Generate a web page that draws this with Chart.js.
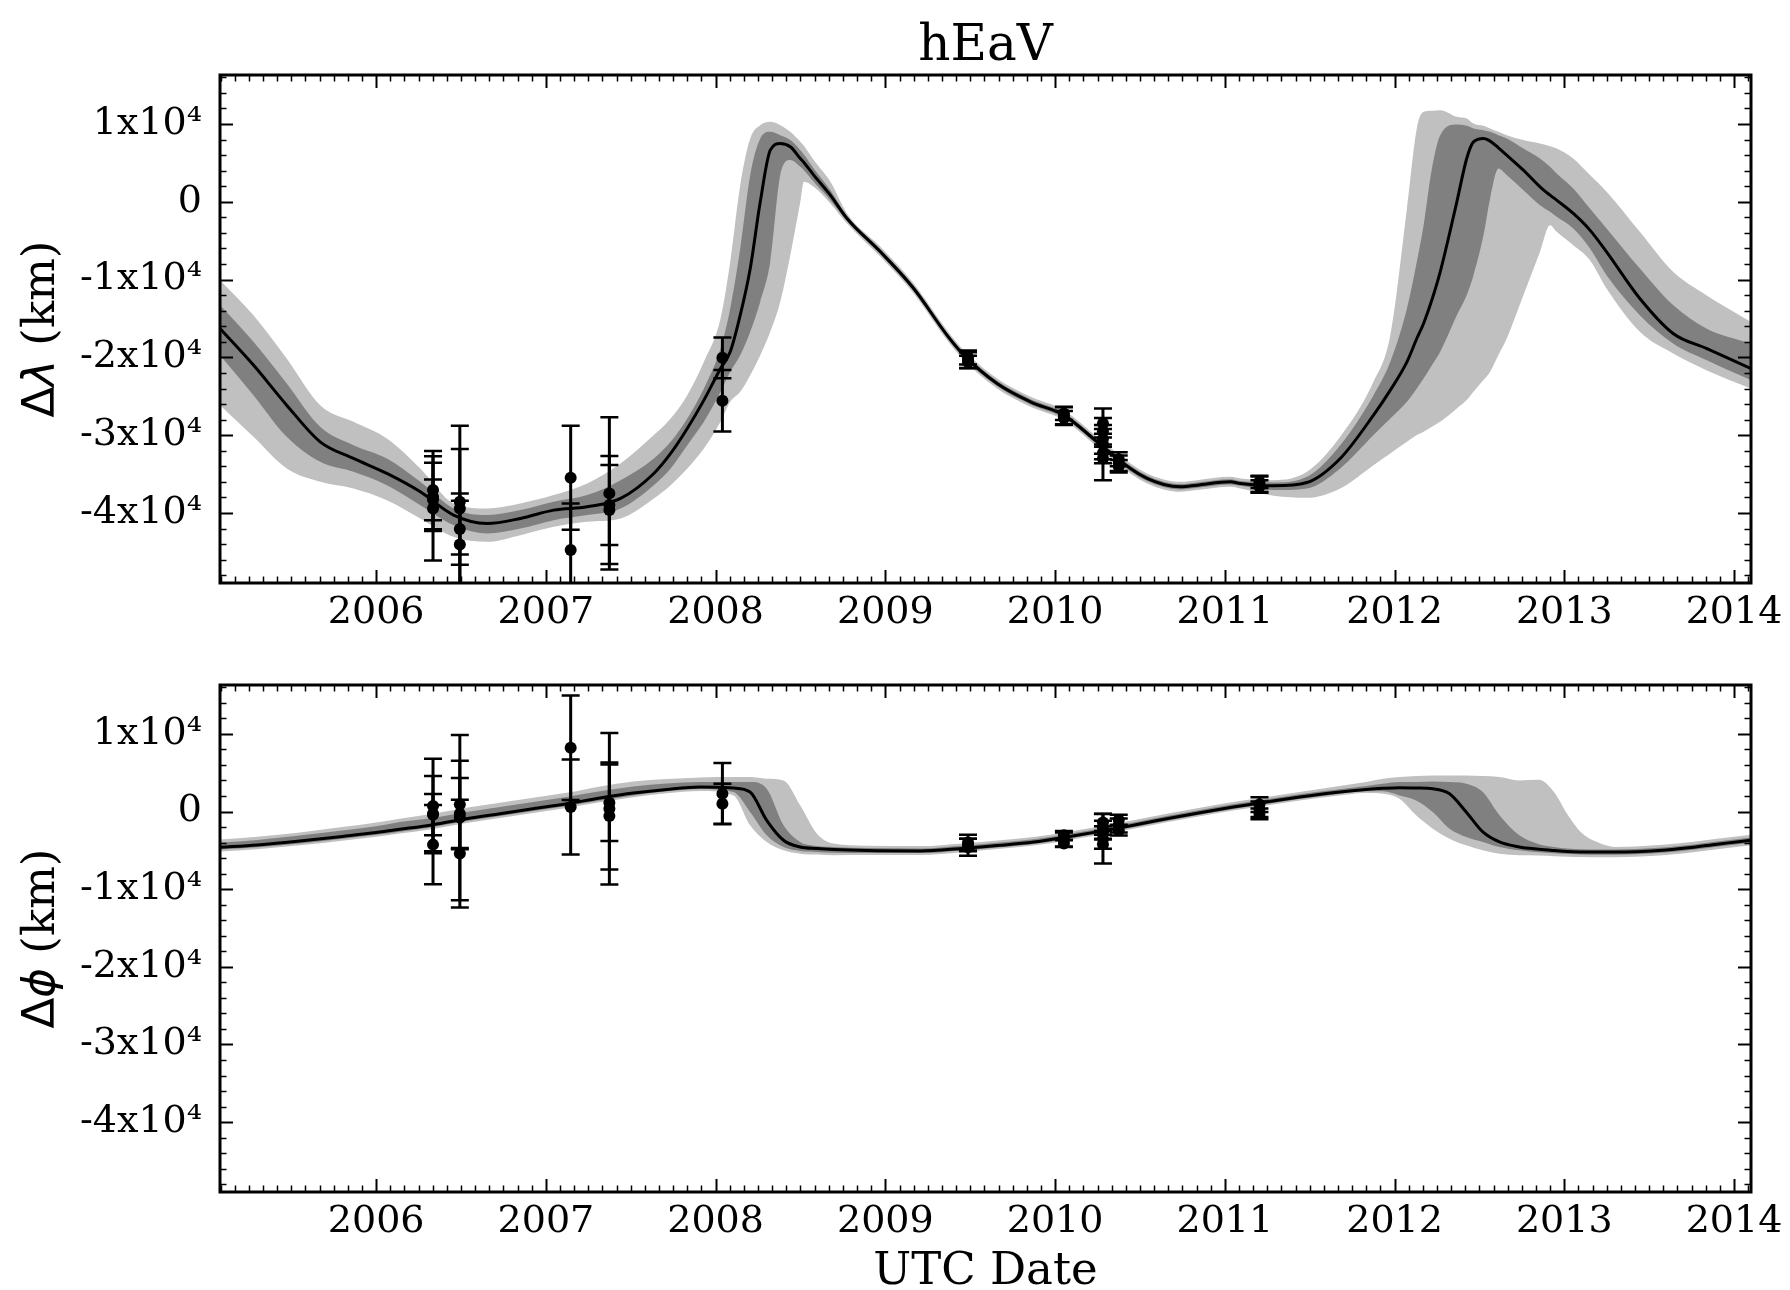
<!DOCTYPE html>
<html><head><meta charset="utf-8">
<script src="https://cdn.jsdelivr.net/npm/chart.js@4.4.1/dist/chart.umd.min.js"></script>
<style>
html,body{margin:0;padding:0;background:#fff;}
#wrap{position:relative;width:1790px;height:1290px;background:#fff;overflow:hidden;}
canvas{position:absolute;left:0;}
#c1{top:0;} #c2{top:640px;}
</style></head><body>
<div id="wrap"><canvas id="c1" width="1790" height="640"></canvas><canvas id="c2" width="1790" height="650"></canvas></div>
<script>
// ---------- axes ----------
const X_MIN = 2005.08, X_MAX = 2014.10;
const Y_MIN = -49000, Y_MAX = 16300;
const xTickVals = [2006, 2007, 2008, 2009, 2010, 2011, 2012, 2013, 2014];
const yTickVals = [-40000, -30000, -20000, -10000, 0, 10000];
const yTickLabels = ['-4x10⁴', '-3x10⁴', '-2x10⁴', '-1x10⁴', '0', '1x10⁴'];
const titleText = 'hEaV';
const xLabelText = 'UTC Date';

// ---------- top panel: Δλ (km) ----------
const lonT = [2005.080,2005.277,2005.473,2005.670,2005.866,2006.063,2006.260,2006.456,2006.653,2006.850,2007.046,2007.243,2007.440,2007.636,2007.735,2007.833,2007.931,2008.029,
  2008.086,2008.145,2008.204,2008.263,2008.322,2008.381,2008.440,2008.499,2008.520,2008.578,2008.676,2008.774,2008.971,2009.167,2009.363,2009.462,2009.658,2009.855,2010.051,2010.248,2010.444,2010.542,2010.640,2010.739,2010.837,2011.033,
  2011.092,2011.288,2011.484,2011.680,2011.876,2011.975,2012.073,2012.131,2012.171,2012.220,2012.269,2012.367,2012.425,2012.465,2012.524,2012.563,2012.612,2012.661,2012.759,2012.857,2012.916,2012.955,2013.053,2013.151,2013.249,2013.445,2013.641,2013.837,2014.098];
const lonCurve = [-16280,-20990,-26140,-30850,-32990,-34920,-37280,-40270,-41350,-40700,-39630,-39200,-38130,-34920,-32350,-29140,-25490,-21420,
  -19280,-14570,-8570,0,6640,7500,7070,5570,5060,3430,860,-2140,-6430,-11140,-17140,-19710,-23350,-25710,-27420,-30850,-34280,-35560,-36330,-36630,-36420,-35990,
  -36200,-36500,-36080,-32990,-27420,-24210,-20570,-17570,-15640,-12600,-9000,0,5570,7710,8140,7800,6940,6000,4070,1930,860,210,-1500,-3640,-6430,-12430,-16920,-18850,-21420];
const lonDarkHi = [-13280,-18000,-23350,-28920,-31280,-32990,-35990,-39420,-40270,-39630,-38560,-37700,-35780,-32990,-30850,-27850,-23990,-18850,
  -13710,-6000,3430,8140,9000,8570,7930,6640,6080,4290,1500,-1800,-6090,-10800,-16800,-19370,-23010,-25370,-27080,-30510,-33940,-35220,-35990,-36290,-36080,-35650,
  -35900,-36080,-35350,-31280,-24850,-20570,-13710,-7710,-3000,4280,8570,9940,9770,9430,9210,9000,8570,8140,6860,5570,4500,3640,1710,-860,-3430,-8570,-13280,-16280,-18210];
const lonDarkLo = [-19710,-24850,-30210,-33420,-34700,-36420,-38990,-41560,-42630,-41990,-40920,-40270,-39420,-36420,-34280,-31280,-28280,-24420,
  -21850,-19710,-16710,-12850,-7710,3430,5360,4500,4070,2570,210,-2480,-6770,-11480,-17480,-20050,-23690,-26050,-27760,-31190,-34620,-35900,-36670,-36970,-36760,-36330,
  -36500,-37060,-36850,-34280,-29990,-27850,-25710,-23990,-22710,-21000,-19280,-14570,-12000,-9430,-4290,430,4280,3430,1500,-430,-1290,-1930,-3430,-6000,-9430,-14570,-18210,-20350,-22920];
const lonLightHi = [-10070,-14570,-20140,-26140,-28280,-30420,-34280,-38780,-39420,-38780,-37700,-36200,-33630,-29990,-27850,-24850,-20570,-15000,
  -7710,2140,8140,9850,10280,9850,9000,7710,7200,5360,2570,-1500,-5790,-10500,-16500,-19070,-22710,-25070,-26780,-30210,-33640,-34920,-35690,-35990,-35780,-35350,
  -35560,-35780,-34700,-30210,-23140,-17140,-860,9430,11570,11700,11780,10930,10710,10070,9770,9430,9000,8570,7930,7500,7150,6860,5570,3430,1290,-3860,-9000,-12000,-15420];
const lonLightLo = [-26140,-30210,-34280,-35990,-36850,-38350,-40700,-43060,-43700,-42850,-41770,-41130,-40700,-38130,-36420,-34280,-31710,-28280,
  -25710,-24420,-22280,-19710,-16710,-12850,-6860,0,2570,1930,-210,-2780,-7070,-11780,-17780,-20350,-23990,-26350,-28060,-31490,-34920,-36200,-36970,-37270,-37060,-36630,
  -36850,-37790,-38050,-36850,-33850,-32350,-30850,-29990,-29560,-28900,-28280,-26560,-25490,-24420,-22920,-21850,-19700,-17570,-12000,-6430,-3000,-3860,-5570,-7500,-11140,-16710,-19490,-21640,-23990];

const lonObsT = [2006.335,2006.335,2006.335,2006.335, 2006.493,2006.493,2006.493,2006.493, 2007.146,2007.146, 2007.374,2007.374,2007.374, 2008.040,2008.040,
  2009.487,2009.487,2009.487, 2010.052,2010.052,2010.052, 2010.282,2010.282,2010.282,2010.282,2010.282,2010.282, 2010.375,2010.375,2010.375, 2011.204,2011.204,2011.204];
const lonObsV = [-37060,-37920,-38300,-39410, -38560,-39410,-42070,-44040, -35480,-44770, -37480,-38980,-39630, -20050,-25580,
  -20000,-20350,-20600, -27200,-27500,-27800, -28500,-29500,-30500,-31170,-32300,-33000, -33100,-33600,-34000, -36000,-36300,-36600];
const lonObsE = [5030,4390,2620,6710, 6770,10620,4590,5610, 6690,6000, 9770,5140,6940, 2620,3950,
  900,1000,800, 850,1100,900, 700,800,700,4610,800,600, 900,1000,800, 800,1000,800];

// ---------- bottom panel: Δϕ (km) ----------
const latT = [2005.080,2005.300,2005.550,2005.800,2006.000,2006.139,2006.335,2006.532,2006.729,2006.925,2007.122,2007.319,2007.515,2007.712,2007.908,
  2008.105,2008.203,2008.301,2008.400,2008.498,2008.597,2008.695,2008.892,2009.206,2009.450,2009.676,2009.873,2010.069,2010.265,2010.461,2010.657,2010.853,
  2011.049,2011.245,2011.441,2011.637,2011.833,2011.931,2012.029,2012.127,2012.225,2012.324,2012.422,2012.520,2012.618,2012.735,2012.850,2012.940,
  2013.020,2013.100,2013.200,2013.300,2013.420,2013.600,2013.760,2013.900,2014.000,2014.100];
const latCurve = [-4600,-4300,-3800,-3200,-2700,-2290,-1690,-920,-270,370,1010,1740,2380,2850,3150,
  3030,2510,-1130,-3700,-4560,-4770,-4900,-5030,-5070,-4750,-4350,-3920,-3270,-2550,-1770,-920,-150,
  580,1230,1870,2430,2850,2990,3070,3030,2940,2300,-60,-2630,-3920,-4560,-4850,-5020,
  -5150,-5200,-5220,-5220,-5170,-4950,-4600,-4200,-3950,-3700];
const latDarkHi = [-4000,-3650,-3100,-2450,-1900,-1350,-830,-70,580,1220,1860,2600,3240,3600,3800,
  3800,3800,2940,-1770,-3920,-4430,-4560,-4700,-4750,-4400,-4000,-3570,-2920,-2200,-1420,-570,200,
  930,1580,2220,2780,3300,3580,3800,3800,3880,3800,3580,2510,-490,-3060,-4200,-4550,
  -4750,-4850,-4880,-4880,-4820,-4600,-4250,-3850,-3600,-3350];
const latDarkLo = [-4900,-4600,-4100,-3500,-3000,-2590,-1990,-1220,-570,70,710,1440,2080,2600,2900,
  2510,-60,-3060,-4560,-5070,-5200,-5290,-5330,-5350,-5000,-4600,-4170,-3520,-2800,-2020,-1170,-400,
  330,980,1620,2180,2600,2600,2080,1440,-60,-2200,-3270,-3920,-4560,-4990,-5250,-5380,
  -5480,-5520,-5550,-5550,-5500,-5280,-4930,-4530,-4280,-4030];
const latLightHi = [-3600,-3250,-2700,-2000,-1400,-920,-280,480,1130,1770,2410,3240,3880,4200,4400,
  4440,4440,4230,4010,800,-2850,-4130,-4400,-4450,-4100,-3700,-3280,-2630,-1910,-1130,-280,490,
  1220,1870,2510,3150,3800,4220,4440,4570,4650,4650,4650,4570,4440,4010,4100,2500,
  -400,-2700,-4000,-4550,-4500,-4250,-3900,-3500,-3250,-3000];
const latLightLo = [-5150,-4850,-4350,-3750,-3250,-2840,-2240,-1470,-820,-180,460,1190,1830,2350,2650,
  2080,-1770,-3920,-4990,-5420,-5540,-5630,-5600,-5600,-5250,-4800,-4370,-3720,-3000,-2220,-1370,-600,
  130,780,1420,1980,2400,2300,1650,-490,-2200,-3490,-4350,-4990,-5420,-5630,-5650,-5750,
  -5820,-5850,-5880,-5880,-5820,-5600,-5250,-4850,-4600,-4350];

const latObsT = [2006.335,2006.335,2006.335,2006.335, 2006.493,2006.493,2006.493,2006.493, 2007.146,2007.146, 2007.374,2007.374,2007.374, 2008.040,2008.040,
  2009.487,2009.487,2009.487, 2010.052,2010.052,2010.052, 2010.282,2010.282,2010.282,2010.282,2010.282, 2010.375,2010.375,2010.375, 2011.204,2011.204,2011.204];
const latObsV = [711,-274,-400,-4259, 925,-274,-769,-5416, 8205,583, 1140,368,-574, 2296,1011,
  -4000,-4300,-4600, -3060,-3600,-4130, -1400,-2100,-2700,-3490,-4200, -1100,-1800,-2400, 900,300,-300];
const latObsE = [6084,4841,2654,5098, 5610,4580,10645,6940, 6731,6127, 4930,9750,6900, 3942,2571,
  1000,800,1100, 560,900,430, 1100,900,800,3210,600, 700,900,700, 950,1000,700];

// ---------- helpers ----------
const SERIF = '"DejaVu Serif", serif';
const SANS = '"DejaVu Sans", sans-serif';
const pts = (t, v) => t.map((x, i) => ({x: x, y: v[i]}));

function framePlugin() {
  return {
    id: 'frame',
    afterDraw(chart) {
      const ctx = chart.ctx, a = chart.chartArea, x = chart.scales.x, y = chart.scales.y;
      ctx.save();
      ctx.strokeStyle = '#000';
      const seg = (x1, y1, x2, y2) => { ctx.beginPath(); ctx.moveTo(x1, y1); ctx.lineTo(x2, y2); ctx.stroke(); };
      for (let yr = 2005; yr <= 2014; yr++) {
        for (let m = 0; m < 12; m++) {
          const v = yr + m / 12;
          if (v <= X_MIN || v >= X_MAX) continue;
          const px = Math.round(x.getPixelForValue(v)) + 0.5;
          const L = m === 0 ? 13 : 6.5;
          ctx.lineWidth = m === 0 ? 2 : 1.5;
          seg(px, a.bottom, px, a.bottom - L);
          seg(px, a.top, px, a.top + L);
        }
      }
      for (let v = -48000; v <= 16000; v += 2000) {
        const py = Math.round(y.getPixelForValue(v)) + 0.5;
        const major = v % 10000 === 0;
        const L = major ? 13 : 6.5;
        ctx.lineWidth = major ? 2 : 1.5;
        seg(a.left, py, a.left + L, py);
        seg(a.right, py, a.right - L, py);
      }
      ctx.lineWidth = 3;
      ctx.strokeRect(a.left, a.top, a.right - a.left, a.bottom - a.top);
      ctx.restore();
    }
  };
}

function errPlugin(T, V, E) {
  return {
    id: 'errbars',
    afterDatasetsDraw(chart) {
      const ctx = chart.ctx, a = chart.chartArea, x = chart.scales.x, y = chart.scales.y;
      ctx.save();
      ctx.beginPath(); ctx.rect(a.left, a.top, a.right - a.left, a.bottom - a.top); ctx.clip();
      ctx.strokeStyle = '#000';
      T.forEach((t, i) => {
        const px = x.getPixelForValue(t);
        const y1 = y.getPixelForValue(V[i] + E[i]);
        const y2 = y.getPixelForValue(V[i] - E[i]);
        ctx.lineWidth = 3;
        ctx.beginPath(); ctx.moveTo(px, y1); ctx.lineTo(px, y2); ctx.stroke();
        ctx.lineWidth = 2.5;
        ctx.beginPath();
        ctx.moveTo(px - 9, y1); ctx.lineTo(px + 9, y1);
        ctx.moveTo(px - 9, y2); ctx.lineTo(px + 9, y2);
        ctx.stroke();
      });
      ctx.restore();
    }
  };
}

function textPlugin(o) {
  return {
    id: 'texts',
    afterDraw(chart) {
      const ctx = chart.ctx, a = chart.chartArea;
      ctx.save();
      ctx.fillStyle = '#000';
      ctx.textBaseline = 'alphabetic';
      const cx = (a.left + a.right) / 2;
      if (o.title) {
        ctx.font = '50px ' + SERIF; ctx.textAlign = 'center';
        ctx.fillText(o.title, cx, o.titleY);
      }
      if (o.xlabel) {
        ctx.font = '45px ' + SERIF; ctx.textAlign = 'center';
        ctx.fillText(o.xlabel, cx, o.xlabelY);
      }
      const parts = o.ylabel;
      ctx.textAlign = 'left';
      let total = 0;
      parts.forEach(p => { ctx.font = p.f; total += ctx.measureText(p.t).width; });
      ctx.translate(o.ylabelX, (a.top + a.bottom) / 2);
      ctx.rotate(-Math.PI / 2);
      let px = -total / 2;
      parts.forEach(p => { ctx.font = p.f; ctx.fillText(p.t, px, 0); px += ctx.measureText(p.t).width; });
      ctx.restore();
    }
  };
}

function scalesCfg(xAxisHeight) {
  return {
    x: {
      type: 'linear', min: X_MIN, max: X_MAX,
      afterBuildTicks: s => { s.ticks = xTickVals.map(v => ({value: v})); },
      afterFit: s => { s.height = xAxisHeight; },
      ticks: { callback: v => String(v), font: {family: 'DejaVu Serif', size: 38}, color: '#000', padding: 7,
               maxRotation: 0, minRotation: 0, autoSkip: false, includeBounds: false },
      grid: { display: false, drawTicks: false }, border: { display: false }
    },
    y: {
      type: 'linear', min: Y_MIN, max: Y_MAX,
      afterBuildTicks: s => { s.ticks = yTickVals.map(v => ({value: v})); },
      afterFit: s => { s.width = 220; },
      ticks: { callback: v => yTickLabels[yTickVals.indexOf(v)], font: {family: 'DejaVu Serif', size: 38}, color: '#000', padding: 18,
               autoSkip: false, includeBounds: false },
      grid: { display: false, drawTicks: false }, border: { display: false }
    }
  };
}

function datasets(T, C, DH, DL, LH, LL, OT, OV) {
  const band = { borderColor: 'rgba(0,0,0,0)', borderWidth: 0, pointRadius: 0, cubicInterpolationMode: 'monotone' };
  return [
    { data: pts(OT, OV), showLine: false, pointRadius: 6, pointHoverRadius: 6, pointBackgroundColor: '#000', pointBorderColor: '#000', pointBorderWidth: 0, order: 0 },
    { data: pts(T, C), borderColor: '#000', borderWidth: 3, pointRadius: 0, fill: false, cubicInterpolationMode: 'monotone', order: 1 },
    Object.assign({ data: pts(T, DH), backgroundColor: '#808080', fill: '+1', order: 2 }, band),
    Object.assign({ data: pts(T, DL), fill: false, order: 2 }, band),
    Object.assign({ data: pts(T, LH), backgroundColor: '#c0c0c0', fill: '+1', order: 3 }, band),
    Object.assign({ data: pts(T, LL), fill: false, order: 3 }, band)
  ];
}

function makeChart(id, ds, topPad, xAxisHeight, plugins) {
  return new Chart(document.getElementById(id), {
    type: 'line',
    data: { datasets: ds },
    options: {
      responsive: false, animation: false, devicePixelRatio: 1,
      layout: { padding: { left: 0, right: 39, top: topPad, bottom: 0 } },
      plugins: { legend: { display: false }, title: { display: false }, tooltip: { enabled: false } },
      scales: scalesCfg(xAxisHeight)
    },
    plugins: plugins
  });
}

makeChart('c1',
  datasets(lonT, lonCurve, lonDarkHi, lonDarkLo, lonLightHi, lonLightLo, lonObsT, lonObsV),
  75, 57,
  [errPlugin(lonObsT, lonObsV, lonObsE), framePlugin(),
   textPlugin({ title: titleText, titleY: 60, ylabelX: 54,
     ylabel: [ {t: 'Δ', f: '45px ' + SANS}, {t: 'λ', f: 'italic 45px ' + SANS}, {t: ' (km)', f: '45px ' + SERIF} ] })]);

makeChart('c2',
  datasets(latT, latCurve, latDarkHi, latDarkLo, latLightHi, latLightLo, latObsT, latObsV),
  45, 98,
  [errPlugin(latObsT, latObsV, latObsE), framePlugin(),
   textPlugin({ xlabel: xLabelText, xlabelY: 644, ylabelX: 54,
     ylabel: [ {t: 'Δ', f: '45px ' + SANS}, {t: 'ϕ', f: 'italic 45px ' + SANS}, {t: ' (km)', f: '45px ' + SERIF} ] })]);
</script></body></html>
